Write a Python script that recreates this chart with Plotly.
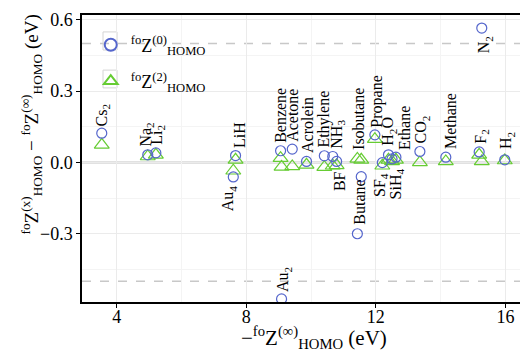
import plotly.graph_objects as go

# ---- data ----
molecules = ["Cs<sub>2</sub>", "Na<sub>2</sub>", "Li<sub>2</sub>", "Au<sub>4</sub>", "LiH",
             "Au<sub>2</sub>", "Benzene", "Acetone", "Acrolein", "Ethylene",
             "NH<sub>3</sub>", "BF", "Butane", "Isobutane", "Propane",
             "SF<sub>4</sub>", "H<sub>2</sub>O", "SiH<sub>4</sub>", "Ethane", "CO<sub>2</sub>",
             "Methane", "F<sub>2</sub>", "N<sub>2</sub>", "H<sub>2</sub>"]
ip = [3.54, 4.96, 5.21, 7.60, 7.67,
      9.09, 9.06, 9.42, 9.86, 10.41,
      10.67, 10.79, 11.43, 11.55, 11.97,
      12.20, 12.39, 12.50, 12.62, 13.36,
      14.16, 15.19, 15.27, 15.98]
z0 = [0.123, 0.032, 0.040, -0.061, 0.029,
      -0.574, 0.049, 0.056, 0.004, 0.028,
      0.025, 0.004, -0.300, -0.060, 0.116,
      -0.001, 0.032, 0.015, 0.022, 0.046,
      0.022, 0.044, 0.565, 0.011]
z2 = [0.074, 0.025, 0.032, -0.035, 0.011,
      -0.019, 0.018, -0.017, -0.010, -0.020,
      -0.014, -0.012, 0.015, 0.011, 0.098,
      -0.014, 0.011, 0.004, 0.011, 0.000,
      0.004, 0.032, 0.004, 0.008]

x_ticks = [4, 8, 12, 16]
y_ticks = [-0.3, 0.0, 0.3, 0.6]
y_tick_text = ["\u22120.3", "0.0", "0.3", "0.6"]

# ---- label placement (pixel offsets relative to the circle marker) ----
# (side, yshift in px, xshift in px)
label_pos = [("a", 5, 1), ("a", 6, -1), ("a", 6, 2), ("b", 6, -4), ("a", 5, 4),
             ("a", 5, 2), ("a", 6, 0), ("a", 5, 0), ("a", 6, 1), ("a", 6, 0),
             ("a", 6, 5), ("b", 8, 3), ("a", 7, 2), ("a", 25, -3), ("a", 5, 2),
             ("b", 8, -2), ("a", 7, 0), ("b", 8, 4), ("a", 5, 8), ("a", 6, 2),
             ("a", 6, 4), ("a", 6, 2), ("b", 6, 3), ("a", 9, 2)]

BLUE = "#5566CC"
GREEN = "#66CC33"
FONT = "Liberation Serif"

fig = go.Figure()

fig.add_trace(go.Scatter(
    x=ip, y=z2, mode="markers", name="<sup>fo</sup>Z<sup>(2)</sup><sub>HOMO</sub>",
    legendgroup="g2", legendrank=2,
    marker=dict(symbol="triangle-up-open", size=13, color=GREEN, line=dict(width=1.2)),
))
fig.add_trace(go.Scatter(
    x=ip, y=z0, mode="markers", name="<sup>fo</sup>Z<sup>(0)</sup><sub>HOMO</sub>",
    legendgroup="g0", legendrank=1,
    marker=dict(symbol="circle-open", size=10, color=BLUE, line=dict(width=1.2)),
))

# reference lines
fig.add_hline(y=0, line=dict(color="#888888", width=1.5), layer="below")
fig.add_hline(y=0.5, line=dict(color="#C8C8C8", width=1.5, dash="dash"), layer="below")
fig.add_hline(y=-0.5, line=dict(color="#C8C8C8", width=1.5, dash="dash"), layer="below")

for name, xv, yv, (side, ys, xs) in zip(molecules, ip, z0, label_pos):
    fig.add_annotation(
        x=xv, y=yv, text=name, showarrow=False, textangle=-90,
        xanchor="center", yanchor="bottom" if side == "a" else "top",
        yshift=ys if side == "a" else -ys, xshift=xs,
        font=dict(family=FONT, size=16, color="black"),
    )

# legend key boxes
for (x0, x1, y0, y1) in [(0.048, 0.080, 0.878, 0.941), (0.048, 0.080, 0.746, 0.808)]:
    fig.add_shape(type="rect", xref="paper", yref="paper", x0=x0, x1=x1, y0=y0, y1=y1,
                  line=dict(color="#D4D4D4", width=1), fillcolor="rgba(0,0,0,0)", layer="below")

# axis titles
fig.add_annotation(
    xref="paper", yref="paper", x=0.53, y=-0.122, xanchor="center", yanchor="middle",
    text="\u2212<sup>fo</sup>Z<sup>(\u221e)</sup><sub>HOMO</sub> (eV)", showarrow=False,
    font=dict(family=FONT, size=21, color="black"),
)
fig.add_annotation(
    xref="paper", yref="paper", x=-0.115, y=0.617, xanchor="center", yanchor="middle",
    textangle=-90,
    text="<sup>fo</sup>Z<sup>(x)</sup><sub>HOMO</sub> \u2212 <sup>fo</sup>Z<sup>(\u221e)</sup><sub>HOMO</sub> (eV)",
    showarrow=False, font=dict(family=FONT, size=19, color="black"),
)

fig.update_layout(
    width=522, height=351,
    margin=dict(l=82, r=2, t=15, b=49),
    paper_bgcolor="white", plot_bgcolor="white",
    font=dict(family=FONT, color="black"),
    showlegend=True,
    legend=dict(x=0.02, y=0.96, xanchor="left", yanchor="top",
                bgcolor="rgba(0,0,0,0)", font=dict(family=FONT, size=18),
                traceorder="grouped", tracegroupgap=10, itemsizing="constant",
                itemwidth=30),
)
fig.update_xaxes(
    range=[2.93, 16.45], tickvals=x_ticks, ticktext=[str(t) for t in x_ticks],
    showgrid=True, gridcolor="#EBEBEB", gridwidth=1,
    minor=dict(dtick=2, tick0=0, showgrid=True, gridcolor="#F4F4F4", gridwidth=0.8),
    showline=True, linecolor="black", linewidth=1.5, mirror=True,
    ticks="outside", ticklen=4, tickcolor="black", ticklabelstandoff=-6,
    tickfont=dict(family=FONT, size=18, color="black"),
    zeroline=False,
)
fig.update_yaxes(
    range=[-0.587, 0.62], tickvals=y_ticks, ticktext=y_tick_text,
    showgrid=True, gridcolor="#EBEBEB", gridwidth=1,
    minor=dict(dtick=0.15, tick0=0.15, showgrid=True, gridcolor="#F4F4F4", gridwidth=0.8),
    showline=True, linecolor="black", linewidth=1.5,
    ticks="outside", ticklen=4, tickcolor="black",
    tickfont=dict(family=FONT, size=18, color="black"),
    zeroline=False,
)

fig.write_html("out.html")
